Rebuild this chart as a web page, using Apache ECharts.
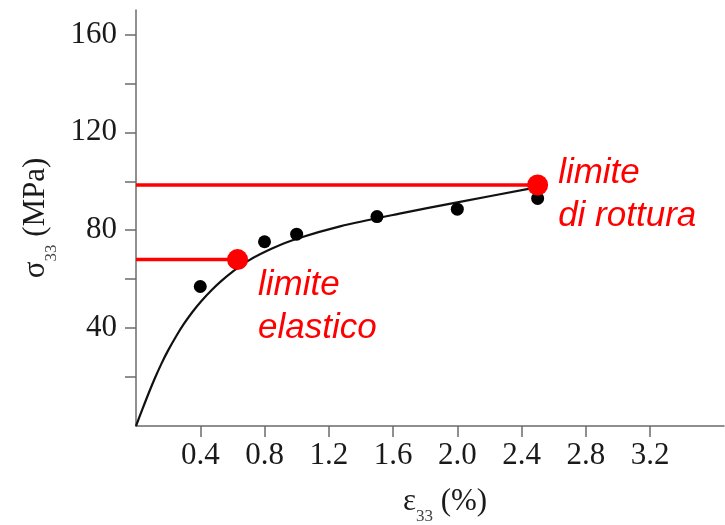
<!DOCTYPE html>
<html>
<head>
<meta charset="utf-8">
<script src="https://cdn.jsdelivr.net/npm/echarts@6/dist/echarts.min.js"></script>
<style>
  html, body { margin: 0; padding: 0; background: #fff; }
  #main { width: 725px; height: 525px; }
</style>
</head>
<body>
<div id="main"></div>
<script>
// fitted curve
const curve = [[0, 0], [0.04, 6.9], [0.08, 13.6], [0.12, 19.9], [0.16, 25.7], [0.2, 30.9],
  [0.25, 36.7], [0.3, 41.9], [0.35, 46.5], [0.41, 51.3], [0.47, 55.5], [0.53, 59.2], [0.6, 63],
  [0.7, 67.6], [0.85, 72.6], [1.0, 76.5], [1.27, 81.6], [1.64, 86.8], [2.0, 91.4], [2.5, 97.6]];
// measured points
const measured = [[0.4, 57], [0.8, 75.3], [1.0, 78.4], [1.5, 85.6], [2.0, 88.6], [2.5, 93]];
// limits
const elastic = [0.632, 68];
const rupture = [2.5, 98.5];
const elasticLabel = 'limite\nelastico';
const ruptureLabel = 'limite\ndi rottura';
// ticks
const xTicks = [0.4, 0.8, 1.2, 1.6, 2.0, 2.4, 2.8, 3.2];
const yTicks = [20, 40, 60, 80, 100, 120, 140, 160];
const yLabels = [40, 80, 120, 160];

const serif = 'Liberation Serif';
const axisGray = '#6b6b6b';

var chart = echarts.init(document.getElementById('main'), null, { renderer: 'canvas' });

const nameRich = {
  s: { fontFamily: serif, fontSize: 31, color: '#1a1a1a', lineHeight: 31, verticalAlign: 'top' },
  sub: { fontFamily: serif, fontSize: 17, color: '#444', lineHeight: 17, verticalAlign: 'top', padding: [22, 0, 0, 0] }
};

chart.setOption({
  animation: false,
  grid: { left: 136, right: 1, top: 10, bottom: 99, outerBoundsMode: 'none', containLabel: false },
  xAxis: {
    type: 'value',
    min: 0,
    max: 3.66,
    name: '{s|ε}{sub|33}{s| (%)}',
    nameLocation: 'middle',
    nameGap: 60,
    nameTextStyle: { rich: nameRich, padding: [0, 0, 0, 30] },
    axisLine: { lineStyle: { color: axisGray, width: 1.5 } },
    axisTick: { show: true, customValues: xTicks, length: 11, lineStyle: { color: axisGray, width: 1.5 } },
    axisLabel: {
      customValues: xTicks,
      formatter: function (v) { return v.toFixed(1); },
      fontFamily: serif, fontSize: 31, color: '#1a1a1a', margin: 14
    },
    splitLine: { show: false }
  },
  yAxis: {
    type: 'value',
    min: 0,
    max: 170,
    name: '{s|σ}{sub|33}{s| (MPa)}',
    nameLocation: 'middle',
    nameRotate: 90,
    nameGap: 80,
    nameTextStyle: { rich: nameRich },
    axisLine: { show: true, lineStyle: { color: axisGray, width: 1.5 } },
    axisTick: { show: true, customValues: yTicks, length: 11, lineStyle: { color: axisGray, width: 1.5 } },
    axisLabel: {
      customValues: yLabels,
      fontFamily: serif, fontSize: 31, color: '#1a1a1a', margin: 19
    },
    splitLine: { show: false }
  },
  series: [
    {
      type: 'line',
      data: curve,
      smooth: 0.3,
      showSymbol: false,
      lineStyle: { color: '#111', width: 2.2 },
      z: 2
    },
    {
      type: 'scatter',
      data: measured,
      symbolSize: 13,
      itemStyle: { color: '#000', opacity: 1 },
      z: 3
    },
    {
      type: 'line',
      data: [[0, elastic[1]], elastic],
      showSymbol: false,
      lineStyle: { color: '#ff0000', width: 3.5 },
      z: 4
    },
    {
      type: 'line',
      data: [[0, rupture[1]], rupture],
      showSymbol: false,
      lineStyle: { color: '#ff0000', width: 3.5 },
      z: 4
    },
    {
      type: 'scatter',
      data: [
        { value: elastic, label: { formatter: elasticLabel, offset: [5, 47] } },
        { value: rupture, label: { formatter: ruptureLabel, offset: [5, 10] } }
      ],
      symbolSize: 21,
      itemStyle: { color: '#ff0000', opacity: 1 },
      label: {
        show: true,
        position: 'right',
        color: '#ff0000',
        fontFamily: 'Liberation Sans',
        fontStyle: 'italic',
        fontSize: 35,
        lineHeight: 43,
        align: 'left'
      },
      z: 5
    }
  ]
});
</script>
</body>
</html>
